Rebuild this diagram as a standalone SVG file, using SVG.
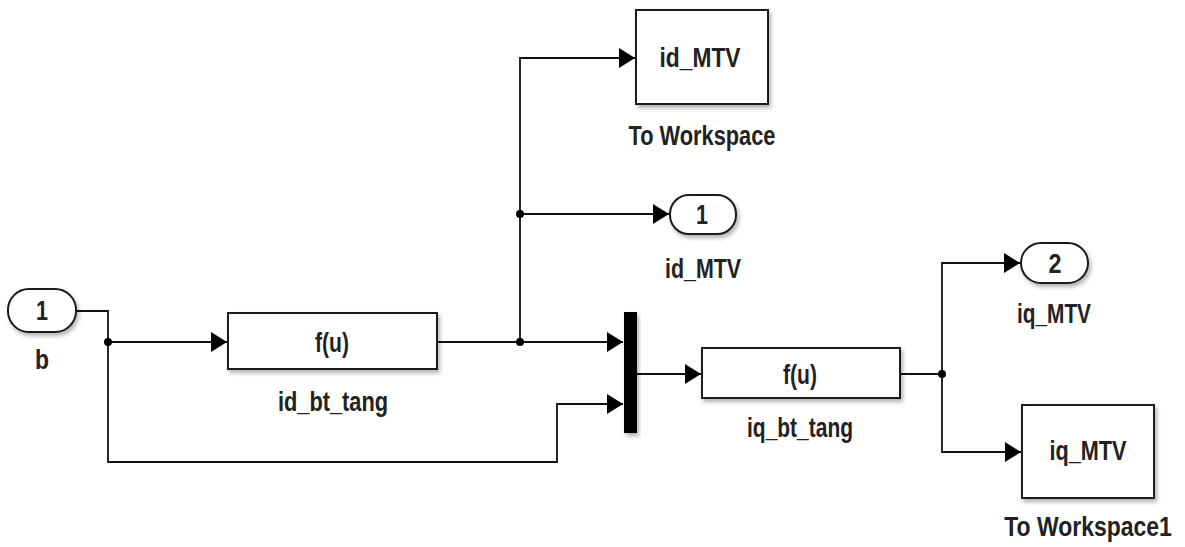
<svg xmlns="http://www.w3.org/2000/svg" width="1185" height="547" viewBox="0 0 1185 547">
<style>
.blk{fill:#fff;stroke:#1a1a1a;stroke-width:2;filter:url(#sh)}
.port{fill:#fff;stroke:#1a1a1a;stroke-width:2;filter:url(#sh)}
.wire{fill:none;stroke:#111;stroke-width:1.8}
.t{font-family:"Liberation Sans",Arial,sans-serif;font-weight:bold;font-size:28px;fill:#222;text-anchor:middle}
</style>
<defs>
<filter id="sh" x="-20%" y="-20%" width="150%" height="150%">
<feDropShadow dx="2" dy="3" stdDeviation="2" flood-color="#000" flood-opacity="0.3"/>
</filter>
<marker id="ar" markerUnits="userSpaceOnUse" markerWidth="17" markerHeight="20" refX="16" refY="10" orient="auto">
<path d="M0,0 L16,10 L0,20 Z" fill="#000"/>
</marker>
</defs>

<g id="connectors">
<path class="wire" d="M76,311 H108 V462 H557 V404 H623" marker-end="url(#ar)"/>
<path class="wire" d="M108,342 H227" marker-end="url(#ar)"/>
<path class="wire" d="M437,342 H623" marker-end="url(#ar)"/>
<path class="wire" d="M520,342 V58 H635" marker-end="url(#ar)"/>
<path class="wire" d="M520,214 H669" marker-end="url(#ar)"/>
<path class="wire" d="M637,374 H701" marker-end="url(#ar)"/>
<path class="wire" d="M900,374 H942 V263 H1020" marker-end="url(#ar)"/>
<path class="wire" d="M942,374 V452 H1021" marker-end="url(#ar)"/>
<circle cx="108" cy="342" r="4" fill="#000"/>
<circle cx="520" cy="342" r="4" fill="#000"/>
<circle cx="520" cy="214" r="4" fill="#000"/>
<circle cx="942" cy="374" r="4" fill="#000"/>
</g>

<g id="inport_b">
<rect class="port" x="8" y="289" width="68" height="43" rx="21" ry="21"/>
<text class="t" x="42" y="320" font-size="26" textLength="12" lengthAdjust="spacingAndGlyphs">1</text>
<text class="t" x="42" y="369" textLength="14" lengthAdjust="spacingAndGlyphs">b</text>
</g>

<g id="id_bt_tang">
<rect class="blk" x="228" y="313" width="209" height="56"/>
<text class="t" x="332" y="352" textLength="34" lengthAdjust="spacingAndGlyphs">f(u)</text>
<text class="t" x="333" y="411" textLength="110" lengthAdjust="spacingAndGlyphs">id_bt_tang</text>
</g>

<g id="to_workspace">
<rect class="blk" x="636" y="10" width="132" height="94"/>
<text class="t" x="700" y="67" textLength="81" lengthAdjust="spacingAndGlyphs">id_MTV</text>
<text class="t" x="702" y="145" textLength="147" lengthAdjust="spacingAndGlyphs">To Workspace</text>
</g>

<g id="outport_id_MTV">
<rect class="port" x="670" y="195" width="66" height="39" rx="19" ry="19"/>
<text class="t" x="702" y="224" font-size="26" textLength="12" lengthAdjust="spacingAndGlyphs">1</text>
<text class="t" x="703" y="278" textLength="76" lengthAdjust="spacingAndGlyphs">id_MTV</text>
</g>

<g id="mux">
<rect x="624" y="312" width="13" height="121" fill="#000" filter="url(#sh)"/>
</g>

<g id="iq_bt_tang">
<rect class="blk" x="702" y="348" width="198" height="50"/>
<text class="t" x="800" y="384" textLength="34" lengthAdjust="spacingAndGlyphs">f(u)</text>
<text class="t" x="800" y="437" textLength="106" lengthAdjust="spacingAndGlyphs">iq_bt_tang</text>
</g>

<g id="outport_iq_MTV">
<rect class="port" x="1021" y="243" width="67" height="40" rx="20" ry="20"/>
<text class="t" x="1055" y="273" font-size="26" textLength="13" lengthAdjust="spacingAndGlyphs">2</text>
<text class="t" x="1054" y="323" textLength="74" lengthAdjust="spacingAndGlyphs">iq_MTV</text>
</g>

<g id="to_workspace1">
<rect class="blk" x="1022" y="405" width="132" height="93"/>
<text class="t" x="1088" y="460" textLength="77" lengthAdjust="spacingAndGlyphs">iq_MTV</text>
<text class="t" transform="translate(1088,536) scale(0.82,1)" x="0" y="0" font-size="25">To Workspace1</text>
</g>
</svg>
